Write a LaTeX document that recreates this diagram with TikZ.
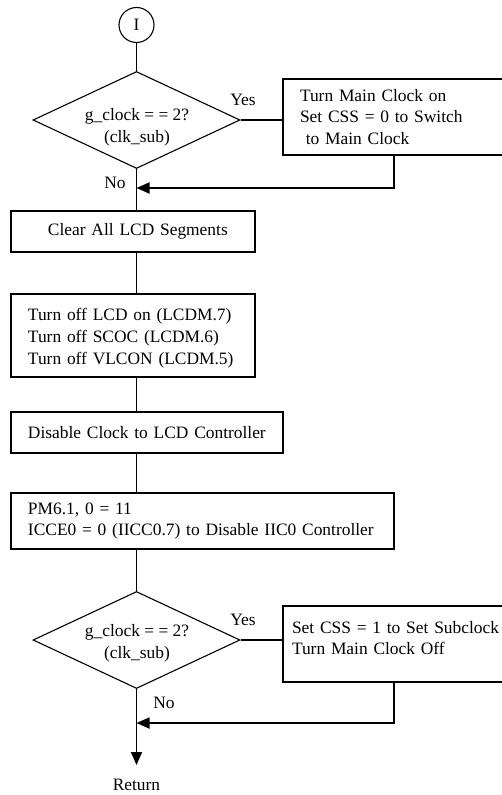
\documentclass[tikz,border=0pt]{standalone}
\usepackage{fontspec}
\setmainfont{Liberation Serif}
\usetikzlibrary{shapes.geometric,arrows.meta}

\tikzset{
  x=1bp, y=-1bp,
  every node/.style={font=\fontsize{17.4bp}{21.8bp}\selectfont},
  stepbox/.style={draw, line width=1.1bp, rectangle, inner ysep=0pt,
    inner xsep=3bp, align=left},
  decision/.style={draw, line width=1.1bp, diamond, inner sep=0pt,
    minimum width=207bp, minimum height=97bp},
  connector/.style={draw, line width=1.1bp, circle, inner sep=0pt,
    minimum size=35bp},
  plain/.style={inner sep=0pt},
  flow/.style={line width=1.4bp},
  mergeline/.style={line width=1.8bp, -{Triangle[length=13bp,width=11bp]}},
}
% left indent of the text inside a box
\newcommand{\boxindent}[1]{\leftskip=#1bp\relax}
% extra room below the last line of a box text
\newcommand{\boxtail}[1]{\par\vskip#1bp\hrule height 0pt}

\begin{document}
\begin{tikzpicture}
\useasboundingbox (0,0) rectangle (502,795);

% start connector and first clock test
\node[connector] (start) at (136.5,25) {I};
\node[decision] (d1) at (136.5,120) {};
\node[plain, align=center] (d1t) at (137,127) {g\_clock = = 2?\\(clk\_sub)};
\node[plain] (yes1) at (243,100) {Yes};
\node[plain] (no1) at (115,183) {No};
\node[stepbox, minimum width=222bp, minimum height=76bp, text width=216bp]
  (b1) at (394,117) {\boxindent{14}Turn Main Clock on\\Set CSS = 0 to Switch\\\ to Main Clock\par};
\coordinate (m1) at (136.5,188);

% LCD shutdown steps
\node[stepbox, minimum width=244bp, minimum height=41bp, text width=238bp]
  (b2) at (133,231.5) {\boxindent{34}Clear All LCD Segments\par};
\node[stepbox, minimum width=244bp, minimum height=83bp, text width=238bp]
  (b3) at (133,335.5) {\boxindent{14}Turn off LCD on (LCDM.7)\\Turn off SCOC (LCDM.6)\\Turn off VLCON (LCDM.5)\boxtail{-6}};
\node[stepbox, minimum width=272bp, minimum height=41bp, text width=266bp]
  (b4) at (147,432.5) {\boxindent{14}Disable Clock to LCD Controller\par};
\node[stepbox, minimum width=383bp, minimum height=56bp, text width=377bp]
  (b5) at (202.5,521) {\boxindent{14}PM6.1, 0 = 11\\ICCE0 = 0 (IICC0.7) to Disable IIC0 Controller\par};

% second clock test
\node[decision] (d2) at (136.5,640) {};
\node[plain, align=center] (d2t) at (137,643) {g\_clock = = 2?\\(clk\_sub)};
\node[plain] (yes2) at (243,620) {Yes};
\node[plain] (no2) at (164,703) {No};
\node[stepbox, minimum width=222bp, minimum height=76bp, text width=216bp]
  (b6) at (394,644) {\boxindent{6}Set CSS = 1 to Set Subclock\\Turn Main Clock Off\boxtail{12}};
\coordinate (m2) at (136.5,723);
\coordinate (tip) at (136.5,765);
\node[plain] (ret) at (136.5,785) {Return};

% connectors
\draw[flow] (start) -- (d1.north);
\draw[flow] (d1.east) -- (d1.east -| b1.west);
\draw[mergeline] (b1.south) |- (m1);
\draw[flow] (d1.south) -- (d1.south |- b2.north);
\draw[flow] (d1.south |- b2.south) -- (d1.south |- b3.north);
\draw[flow] (d1.south |- b3.south) -- (d1.south |- b4.north);
\draw[flow] (d1.south |- b4.south) -- (d1.south |- b5.north);
\draw[flow] (d1.south |- b5.south) -- (d2.north);
\draw[flow] (d2.east) -- (d2.east -| b6.west);
\draw[mergeline] (b6.south) |- (m2);
\draw[mergeline] (d2.south) -- (tip);
\end{tikzpicture}
\end{document}
